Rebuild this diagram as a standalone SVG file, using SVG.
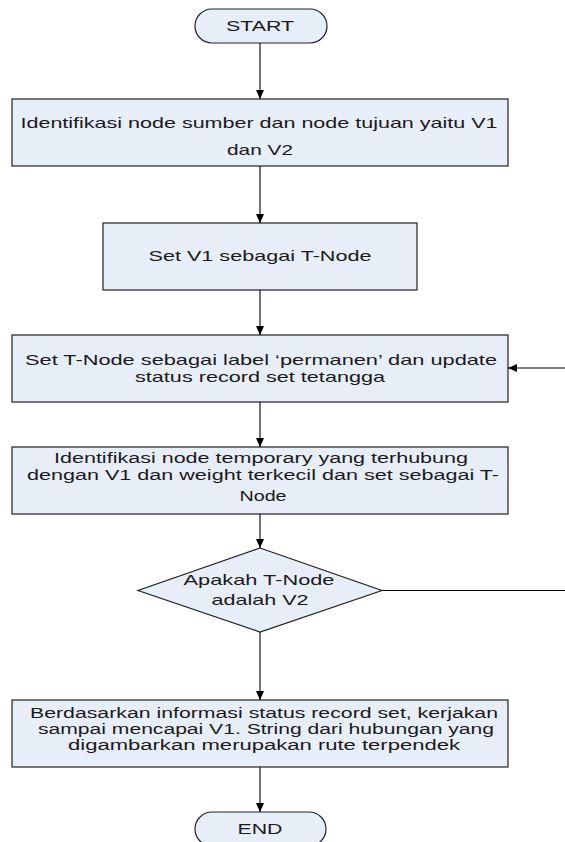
<svg xmlns="http://www.w3.org/2000/svg" width="565" height="842" viewBox="0 0 565 842">
<defs>
<marker id="arr" markerUnits="userSpaceOnUse" markerWidth="10" markerHeight="10" viewBox="0 0 10 10" refX="10" refY="5" orient="auto">
<path d="M1,1 L10,5 L1,9 Z" fill="#000"/>
</marker>
</defs>
<style>
.shape{fill:#E8EEF8;stroke:#222;stroke-width:1.2}
.t{font-family:"Liberation Sans",Arial,sans-serif;font-size:15px;fill:#1a1a1a;text-anchor:middle}
.s{font-size:14px}
.c{fill:none;stroke:#000;stroke-width:1.1}
</style>
<rect width="565" height="842" fill="#fff"/>
<g id="start">
<rect class="shape" x="195" y="9" width="132" height="34" rx="17"/>
<text class="t" x="260" y="31" textLength="68" lengthAdjust="spacingAndGlyphs">START</text>
</g>
<g id="box1">
<rect class="shape" x="12" y="99" width="496" height="67"/>
<text class="t" x="259" y="128" textLength="477" lengthAdjust="spacingAndGlyphs">Identifikasi node sumber dan node tujuan yaitu V1</text>
<text class="t" x="260" y="155" textLength="66" lengthAdjust="spacingAndGlyphs">dan V2</text>
</g>
<g id="box2">
<rect class="shape" x="103" y="223" width="314" height="67"/>
<text class="t" x="260" y="261" textLength="223" lengthAdjust="spacingAndGlyphs">Set V1 sebagai T-Node</text>
</g>
<g id="box3">
<rect class="shape" x="12" y="335" width="496" height="67"/>
<text class="t" x="261" y="365" textLength="472" lengthAdjust="spacingAndGlyphs">Set T-Node sebagai label ‘permanen’ dan update</text>
<text class="t" x="260" y="382" textLength="250" lengthAdjust="spacingAndGlyphs">status record set tetangga</text>
</g>
<g id="box4">
<rect class="shape" x="12" y="447" width="496" height="67"/>
<text class="t s" x="261" y="463" textLength="414" lengthAdjust="spacingAndGlyphs">Identifikasi node temporary yang terhubung</text>
<text class="t s" x="263" y="480" textLength="472" lengthAdjust="spacingAndGlyphs">dengan V1 dan weight terkecil dan set sebagai T-</text>
<text class="t s" x="263" y="501" textLength="47" lengthAdjust="spacingAndGlyphs">Node</text>
</g>
<g id="decision">
<polygon class="shape" points="260,548 382,590.5 260,632 138,590.5"/>
<text class="t" x="259" y="585" textLength="151" lengthAdjust="spacingAndGlyphs">Apakah T-Node</text>
<text class="t" x="260" y="605" textLength="97" lengthAdjust="spacingAndGlyphs">adalah V2</text>
</g>
<g id="box5">
<rect class="shape" x="12" y="700" width="496" height="67"/>
<text class="t s" x="264" y="718" textLength="468" lengthAdjust="spacingAndGlyphs">Berdasarkan informasi status record set, kerjakan</text>
<text class="t s" x="266" y="734" textLength="456" lengthAdjust="spacingAndGlyphs">sampai mencapai V1. String dari hubungan yang</text>
<text class="t s" x="264" y="750" textLength="392" lengthAdjust="spacingAndGlyphs">digambarkan merupakan rute terpendek</text>
</g>
<g id="end">
<rect class="shape" x="195" y="812" width="131" height="34" rx="17"/>
<text class="t" x="260" y="834" textLength="45" lengthAdjust="spacingAndGlyphs">END</text>
</g>
<g id="connectors">
<path class="c" d="M260,43 V99" marker-end="url(#arr)"/>
<path class="c" d="M260,166 V223" marker-end="url(#arr)"/>
<path class="c" d="M260,290 V335" marker-end="url(#arr)"/>
<path class="c" d="M260,402 V447" marker-end="url(#arr)"/>
<path class="c" d="M260,514 V548" marker-end="url(#arr)"/>
<path class="c" d="M260,632 V700" marker-end="url(#arr)"/>
<path class="c" d="M260,767 V812" marker-end="url(#arr)"/>
<path class="c" d="M382,590.5 H572 V368 H508" marker-end="url(#arr)"/>
</g>
</svg>
